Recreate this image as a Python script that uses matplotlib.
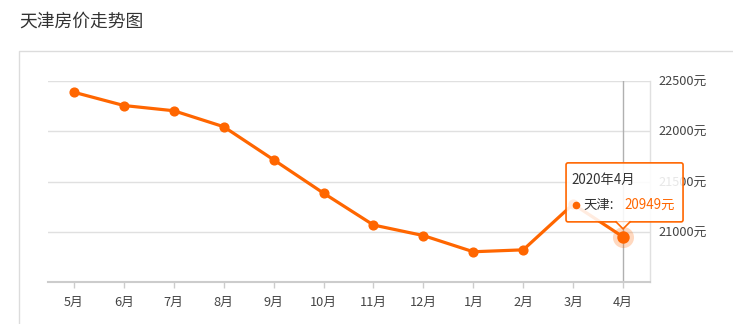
import matplotlib
matplotlib.use("Agg")
import matplotlib.pyplot as plt
from matplotlib.patches import Rectangle, FancyBboxPatch, Polygon
from matplotlib.lines import Line2D

plt.rcParams['font.family'] = ['Noto Sans CJK SC', 'DejaVu Sans']

title = "天津房价走势图"
months = ["5月", "6月", "7月", "8月", "9月", "10月", "11月", "12月", "1月", "2月", "3月", "4月"]
prices = [22388, 22256, 22204, 22045, 21716, 21384, 21067, 20962, 20801, 20820, 21275, 20949]
y_ticks = [21000, 21500, 22000, 22500]
y_tick_labels = ["21000元", "21500元", "22000元", "22500元"]
tip_title = "2020年4月"
tip_series = "天津:"
tip_value = "20949元"

W, H = 733, 324
fig = plt.figure(figsize=(W / 100, H / 100), dpi=100)
fig.patch.set_facecolor("white")

def fx(px):
    return px / W

def fy(py):
    return 1 - py / H

# outer panel frame
fig.patches.append(Rectangle((fx(19), fy(330)), fx(740) - fx(19), fy(51) - fy(330),
                             transform=fig.transFigure, facecolor="none",
                             edgecolor="#dcdcdc", linewidth=1.0, zorder=0))
fig.text(fx(19), fy(22), title, fontsize=12.8, color="#333333", va="center", ha="left")

ax = fig.add_axes([fx(48), fy(282), fx(650) - fx(48), fy(81) - fy(282)])
ax.set_xlim(-0.52, 11.54)
ax.set_ylim(20500, 22500)

orange = "#ff6600"
x = list(range(len(months)))
ax.plot(x, prices, color=orange, linewidth=2.3, marker="o", markersize=6.3,
        markerfacecolor=orange, markeredgecolor=orange, zorder=3, clip_on=False)

# axis pointer and highlighted point
ax.axvline(x[-1], color="#b0b0b0", linewidth=1.0, zorder=2)
ax.scatter([x[-1]], [prices[-1]], s=230, color=orange, alpha=0.25, zorder=4, linewidths=0)
ax.scatter([x[-1]], [prices[-1]], s=80, color=orange, zorder=5, linewidths=0)

ax.set_yticks(y_ticks)
ax.set_yticklabels(y_tick_labels)
ax.yaxis.tick_right()
ax.tick_params(axis="y", length=0, pad=6, labelsize=9.2, labelcolor="#444444")
ax.grid(axis="y", color="#e0e0e0", linewidth=1.0)
ax.set_axisbelow(True)

ax.set_xticks(x)
ax.set_xticklabels(months)
ax.tick_params(axis="x", length=4, width=1, color="#cccccc", pad=6, labelsize=9.2,
               labelcolor="#444444")

for s in ["top", "left"]:
    ax.spines[s].set_visible(False)
ax.spines["bottom"].set_color("#cccccc")
ax.spines["bottom"].set_linewidth(1.5)
ax.spines["right"].set_color("#e0e0e0")
ax.spines["right"].set_linewidth(1.0)

# tooltip anchored to the last data point
fig.canvas.draw()
px, py = ax.transData.transform((x[-1], prices[-1]))
bx0, bx1 = px - 57, px + 60
by0, by1 = py + 15, py + 74
tip_face = (1, 1, 1, 0.88)
box = FancyBboxPatch((bx0, by0), bx1 - bx0, by1 - by0,
                     boxstyle="round,pad=0,rounding_size=2",
                     transform=None, facecolor=tip_face, edgecolor=orange,
                     linewidth=1.2, zorder=10)
fig.patches.append(box)
tri = Polygon([[px - 7, by0 + 0.6], [px + 7, by0 + 0.6], [px, by0 - 7]], closed=True,
              transform=None, facecolor=tip_face, edgecolor="none", zorder=11)
fig.patches.append(tri)
fig.lines.append(Line2D([px - 7, px, px + 7], [by0, by0 - 7, by0], transform=None,
                        color=orange, linewidth=1.2, zorder=12))
fig.text(fx(bx0 + 5), (by1 - 17) / H, tip_title, fontsize=9.6, color="#333333",
         va="center", ha="left", zorder=13)
fig.lines.append(Line2D([bx0 + 10], [by1 - 42], transform=None, marker="o", markersize=4.5,
                        color=orange, linestyle="none", zorder=13))
fig.text(fx(bx0 + 17), (by1 - 42) / H, tip_series, fontsize=9.6, color="#333333",
         va="center", ha="left", zorder=13)
fig.text(fx(bx0 + 58), (by1 - 42) / H, tip_value, fontsize=9.6, color=orange,
         va="center", ha="left", zorder=13)

fig.savefig("out.png", dpi=100)
